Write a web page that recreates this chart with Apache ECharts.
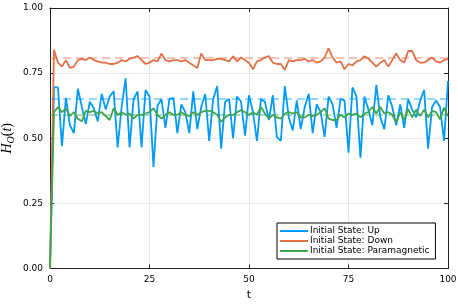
<!DOCTYPE html>
<html>
<head>
<meta charset="utf-8">
<script src="https://cdn.jsdelivr.net/npm/echarts@6/dist/echarts.min.js"></script>
<style>html,body{margin:0;padding:0;background:#fff;}#c{width:458px;height:305px;}</style>
</head>
<body>
<div id="c"></div>
<script>
const seriesNames = ['Initial State: Up', 'Initial State: Down', 'Initial State: Paramagnetic'];
const seriesColors = ['#009AFA', '#E36F47', '#3EA44E'];
const xTicks = [0, 25, 50, 75, 100];
const yTicks = [0, 0.25, 0.5, 0.75, 1];

const upValues = [0, 0.695, 0.695, 0.47, 0.655, 0.55, 0.52, 0.69, 0.62, 0.555,
  0.64, 0.615, 0.565, 0.67, 0.61, 0.66, 0.68, 0.465, 0.62, 0.73,
  0.465, 0.65, 0.68, 0.465, 0.685, 0.66, 0.39, 0.625, 0.65, 0.54,
  0.65, 0.655, 0.52, 0.63, 0.60, 0.52, 0.68, 0.535, 0.62, 0.67,
  0.49, 0.65, 0.70, 0.46, 0.64, 0.65, 0.50, 0.66, 0.64, 0.51,
  0.665, 0.60, 0.49, 0.65, 0.64, 0.57, 0.665, 0.505, 0.49, 0.70,
  0.58, 0.53, 0.645, 0.535, 0.62, 0.67, 0.52, 0.63, 0.60, 0.505,
  0.66, 0.63, 0.54, 0.65, 0.645, 0.445, 0.695, 0.66, 0.425, 0.66,
  0.61, 0.55, 0.705, 0.58, 0.535, 0.665, 0.62, 0.55, 0.63, 0.54,
  0.65, 0.61, 0.58, 0.645, 0.685, 0.46, 0.62, 0.645, 0.62, 0.49,
  0.72];

const downValues = [0, 0.84, 0.79, 0.775, 0.80, 0.77, 0.775, 0.80, 0.805, 0.80,
  0.81, 0.80, 0.795, 0.79, 0.79, 0.785, 0.785, 0.79, 0.80, 0.795,
  0.805, 0.81, 0.815, 0.80, 0.785, 0.79, 0.80, 0.795, 0.825, 0.80,
  0.795, 0.80, 0.80, 0.795, 0.80, 0.79, 0.78, 0.77, 0.825, 0.80,
  0.80, 0.80, 0.805, 0.805, 0.80, 0.795, 0.815, 0.795, 0.81, 0.80,
  0.79, 0.765, 0.795, 0.80, 0.81, 0.815, 0.79, 0.785, 0.785, 0.762,
  0.80, 0.795, 0.80, 0.80, 0.805, 0.795, 0.80, 0.79, 0.795, 0.81,
  0.845, 0.81, 0.79, 0.795, 0.765, 0.785, 0.78, 0.795, 0.80, 0.815,
  0.805, 0.79, 0.775, 0.79, 0.80, 0.775, 0.80, 0.825, 0.80, 0.79,
  0.835, 0.835, 0.80, 0.79, 0.79, 0.80, 0.81, 0.795, 0.79, 0.80,
  0.805];

const paraValues = [0, 0.60, 0.62, 0.60, 0.615, 0.585, 0.60, 0.575, 0.565, 0.605,
  0.60, 0.605, 0.595, 0.60, 0.585, 0.57, 0.615, 0.59, 0.60, 0.59,
  0.595, 0.575, 0.59, 0.59, 0.595, 0.60, 0.615, 0.59, 0.575, 0.59,
  0.60, 0.59, 0.59, 0.60, 0.59, 0.585, 0.60, 0.59, 0.60, 0.605,
  0.605, 0.60, 0.59, 0.563, 0.58, 0.59, 0.59, 0.60, 0.608, 0.60,
  0.59, 0.60, 0.59, 0.62, 0.595, 0.575, 0.59, 0.58, 0.575, 0.595,
  0.60, 0.595, 0.60, 0.58, 0.58, 0.59, 0.585, 0.59, 0.60, 0.615,
  0.575, 0.57, 0.57, 0.59, 0.58, 0.595, 0.59, 0.595, 0.58, 0.595,
  0.60, 0.62, 0.595, 0.62, 0.595, 0.60, 0.59, 0.56, 0.60, 0.57,
  0.612, 0.58, 0.61, 0.585, 0.61, 0.58, 0.605, 0.60, 0.573, 0.618,
  0.585];

const meanValues = [0.65, 0.806, 0.595];
const allValues = [upValues, downValues, paraValues];

const chart = echarts.init(document.getElementById('c'), null, {renderer: 'canvas'});
const font = 'DejaVu Sans';

function lineSeries(i) {
  return {
    name: seriesNames[i],
    type: 'line',
    xAxisIndex: 0, yAxisIndex: 0,
    data: allValues[i].map((v, t) => [t, v]),
    showSymbol: false,
    symbol: 'none',
    lineStyle: {color: seriesColors[i], width: 1.8},
    itemStyle: {color: seriesColors[i]},
    z: 3 + i,
    markLine: {
      silent: true,
      symbol: 'none',
      label: {show: false},
      animation: false,
      lineStyle: {color: seriesColors[i], type: [8, 5], width: 1.6, opacity: 0.55},
      data: [{yAxis: meanValues[i]}]
    }
  };
}

const common = {
  axisTick: {show: true, inside: true, length: 4, lineStyle: {color: '#222', width: 1}},
  axisLine: {show: true, onZero: false, lineStyle: {color: '#222', width: 1}}
};

chart.setOption({
  animation: false,
  backgroundColor: '#fff',
  grid: {left: 50, right: 10, top: 8, bottom: 36.5, show: false, containLabel: false, outerBoundsMode: 'none'},
  xAxis: [
    Object.assign({
      type: 'value', position: 'bottom', min: 0, max: 100, interval: 25,
      name: 't', nameLocation: 'middle', nameGap: 19,
      nameTextStyle: {fontFamily: font, fontSize: 11, color: '#000'},
      axisLabel: {fontFamily: font, fontSize: 9, color: '#000', margin: 7},
      splitLine: {show: true, lineStyle: {color: '#e6e6e6', width: 1}}
    }, common),
    Object.assign({
      type: 'value', position: 'top', min: 0, max: 100, interval: 25,
      axisLabel: {show: false}, splitLine: {show: false}
    }, common)
  ],
  yAxis: [
    Object.assign({
      type: 'value', position: 'left', min: 0, max: 1, interval: 0.25,
      name: '{i|H}{s|O}{n|(}{i|t}{n|)}', nameLocation: 'middle', nameGap: 34,
      nameMoveOverlap: false,
      nameTextStyle: {
        rich: {
          i: {fontFamily: 'Liberation Serif', fontStyle: 'italic', fontSize: 14, color: '#000'},
          s: {fontFamily: 'Liberation Serif', fontStyle: 'italic', fontSize: 10, color: '#000', verticalAlign: 'bottom', padding: [7, 0, 0, 0]},
          n: {fontFamily: 'Liberation Serif', fontSize: 14, color: '#000'}
        }
      },
      axisLabel: {fontFamily: font, fontSize: 9, color: '#000', margin: 7,
        formatter: v => v.toFixed(2)},
      splitLine: {show: true, lineStyle: {color: '#e6e6e6', width: 1}}
    }, common),
    Object.assign({
      type: 'value', position: 'right', min: 0, max: 1, interval: 0.25,
      axisLabel: {show: false}, splitLine: {show: false}
    }, common)
  ],
  legend: {
    orient: 'vertical',
    left: 277, top: 223,
    itemWidth: 28, itemHeight: 2,
    itemGap: 0,
    icon: 'rect',
    padding: [3, 6, 3, 3],
    borderColor: '#000', borderWidth: 1, borderRadius: 0,
    backgroundColor: '#fff',
    textStyle: {fontFamily: font, fontSize: 9, color: '#000', lineHeight: 10, padding: [0, 0, 0, -3]},
    data: seriesNames
  },
  series: [lineSeries(0), lineSeries(1), lineSeries(2)]
});
</script>
</body>
</html>
